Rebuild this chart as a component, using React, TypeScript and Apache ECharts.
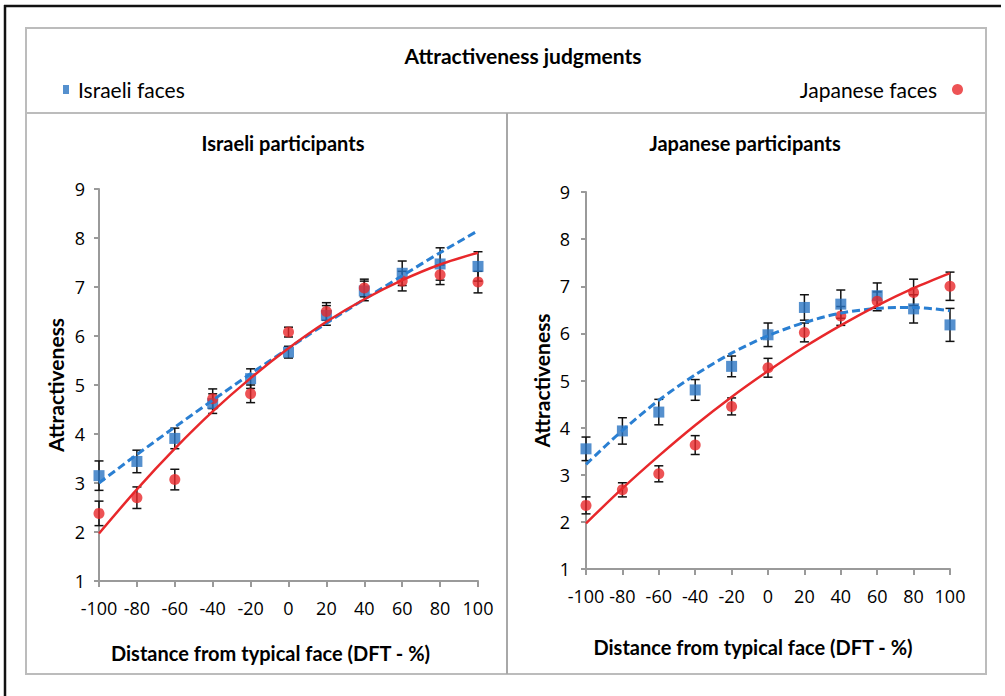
import React, { useEffect, useRef } from "react";
import * as echarts from "echarts";

const xValues = [-100, -80, -60, -40, -20, 0, 20, 40, 60, 80, 100];
const xTicks = ["-100", "-80", "-60", "-40", "-20", "0", "20", "40", "60", "80", "100"];

// Israeli participants
const ipIsraeliMean = [3.15, 3.44, 3.91, 4.62, 5.13, 5.67, 6.42, 6.92, 7.28, 7.47, 7.42];
const ipIsraeliErr = [0.3, 0.23, 0.21, 0.2, 0.2, 0.12, 0.2, 0.2, 0.25, 0.33, 0.3];
const ipJapaneseMean = [2.38, 2.7, 3.07, 4.72, 4.82, 6.08, 6.5, 6.98, 7.12, 7.25, 7.1];
const ipJapaneseErr = [0.25, 0.22, 0.21, 0.2, 0.18, 0.1, 0.18, 0.18, 0.2, 0.2, 0.22];
const ipIsraeliTrend = [3.0, 3.58, 4.14, 4.69, 5.23, 5.75, 6.26, 6.75, 7.23, 7.7, 8.15];
const ipJapaneseTrend = [1.97, 2.87, 3.7, 4.46, 5.14, 5.75, 6.29, 6.75, 7.14, 7.46, 7.7];

// Japanese participants
const jpIsraeliMean = [3.55, 3.93, 4.33, 4.8, 5.3, 5.97, 6.55, 6.62, 6.8, 6.52, 6.18];
const jpIsraeliErr = [0.25, 0.28, 0.27, 0.22, 0.22, 0.25, 0.27, 0.3, 0.27, 0.3, 0.35];
const jpJapaneseMean = [2.35, 2.68, 3.02, 3.63, 4.45, 5.27, 6.02, 6.37, 6.68, 6.87, 7.0];
const jpJapaneseErr = [0.18, 0.15, 0.17, 0.2, 0.18, 0.2, 0.2, 0.2, 0.2, 0.28, 0.3];
const jpIsraeliTrend = [3.22, 3.94, 4.58, 5.12, 5.58, 5.95, 6.23, 6.43, 6.53, 6.55, 6.48];
const jpJapaneseTrend = [1.97, 2.71, 3.4, 4.05, 4.65, 5.2, 5.71, 6.17, 6.59, 6.96, 7.28];

const BLUE = "#2b74c2";
const BLUE_LINE = "#2a7fd2";
const RED = "#e8282b";
const FONT = "Lato, 'Open Sans', sans-serif";
const TICK_FONT = "'Open Sans', sans-serif";

const pairs = (vals: number[]) => xValues.map((x, i) => [x, vals[i]]);
const bars = (vals: number[], errs: number[]) =>
  xValues.map((x, i) => [x, vals[i] - errs[i], vals[i] + errs[i]]);

const errorRender = (params: any, api: any) => {
  const x = api.value(0);
  const top = api.coord([x, api.value(2)]);
  const bot = api.coord([x, api.value(1)]);
  const w = 4.5;
  const st = { stroke: "#111", lineWidth: 1.5 };
  return {
    type: "group",
    children: [
      { type: "line", shape: { x1: top[0], y1: top[1], x2: bot[0], y2: bot[1] }, style: st },
      { type: "line", shape: { x1: top[0] - w, y1: top[1], x2: top[0] + w, y2: top[1] }, style: st },
      { type: "line", shape: { x1: bot[0] - w, y1: bot[1], x2: bot[0] + w, y2: bot[1] }, style: st },
    ],
  };
};

const xAxisCfg = (gridIndex: number, gap: number, shift: number) => ({
  type: "value",
  gridIndex,
  min: -100,
  max: 100,
  interval: 20,
  name: "Distance from typical face (DFT - %)",
  nameLocation: "middle",
  nameGap: gap,
  nameTextStyle: {
    fontFamily: FONT,
    fontWeight: "bold",
    fontSize: 20,
    color: "#000",
    padding: [0, shift, 0, 0],
  },
  axisLine: { onZero: false, lineStyle: { color: "#9a9a9a", width: 2 } },
  axisTick: { show: true, length: 6, lineStyle: { color: "#9a9a9a", width: 2 } },
  axisLabel: {
    margin: 18,
    fontFamily: TICK_FONT,
    fontSize: 18,
    color: "#000",
    formatter: (v: number) => xTicks[xValues.indexOf(v)] ?? String(v),
  },
  splitLine: { show: false },
});

const yAxisCfg = (gridIndex: number, gap: number, margin: number) => ({
  type: "value",
  gridIndex,
  min: 1,
  max: 9,
  interval: 1,
  name: "Attractiveness",
  nameLocation: "middle",
  nameGap: gap,
  nameTextStyle: { fontFamily: FONT, fontWeight: "bold", fontSize: 21, color: "#000" },
  axisLine: { show: true, onZero: false, lineStyle: { color: "#9a9a9a", width: 2 } },
  axisTick: { show: true, length: 5, lineStyle: { color: "#9a9a9a", width: 2 } },
  axisLabel: { margin, fontFamily: TICK_FONT, fontSize: 18, color: "#000" },
  splitLine: { show: false },
});

const panelSeries = (
  idx: number,
  israeliMean: number[],
  israeliErr: number[],
  japaneseMean: number[],
  japaneseErr: number[],
  israeliTrend: number[],
  japaneseTrend: number[]
) => [
  {
    type: "custom",
    name: "err-isr-" + idx,
    xAxisIndex: idx,
    yAxisIndex: idx,
    renderItem: errorRender,
    encode: { x: 0, y: [1, 2] },
    data: bars(israeliMean, israeliErr),
    z: 2,
    silent: true,
  },
  {
    type: "custom",
    name: "err-jap-" + idx,
    xAxisIndex: idx,
    yAxisIndex: idx,
    renderItem: errorRender,
    encode: { x: 0, y: [1, 2] },
    data: bars(japaneseMean, japaneseErr),
    z: 2,
    silent: true,
  },
  {
    type: "scatter",
    name: "Israeli faces",
    xAxisIndex: idx,
    yAxisIndex: idx,
    symbol: "rect",
    symbolSize: 11,
    itemStyle: { color: BLUE },
    data: pairs(israeliMean),
    z: 3,
  },
  {
    type: "scatter",
    name: "Japanese faces",
    xAxisIndex: idx,
    yAxisIndex: idx,
    symbol: "circle",
    symbolSize: 11,
    itemStyle: { color: RED },
    data: pairs(japaneseMean),
    z: 4,
  },
  {
    type: "line",
    name: "trend-isr-" + idx,
    xAxisIndex: idx,
    yAxisIndex: idx,
    smooth: 0.3,
    showSymbol: false,
    lineStyle: { color: BLUE_LINE, width: 3, type: [8, 4] },
    data: pairs(israeliTrend),
    z: 5,
    silent: true,
  },
  {
    type: "line",
    name: "trend-jap-" + idx,
    xAxisIndex: idx,
    yAxisIndex: idx,
    smooth: 0.3,
    showSymbol: false,
    lineStyle: { color: RED, width: 2.5 },
    data: pairs(japaneseTrend),
    z: 5,
    silent: true,
  },
];

export default function App() {
  const ref = useRef<HTMLDivElement>(null);
  useEffect(() => {
    if (!ref.current) return;
    const chart = echarts.init(ref.current, null, { renderer: "svg" });
    const gray = "#bcbcbc";
    chart.setOption({
      animation: false,
      backgroundColor: "#ffffff",
      title: [
        {
          text: "Attractiveness judgments",
          left: 518,
          top: 40,
          textAlign: "center",
          textStyle: { fontFamily: FONT, fontWeight: "bold", fontSize: 21, color: "#000" },
        },
        {
          text: "Israeli participants",
          left: 278,
          top: 128,
          textAlign: "center",
          textStyle: { fontFamily: FONT, fontWeight: "bold", fontSize: 20, color: "#000" },
        },
        {
          text: "Japanese participants",
          left: 740,
          top: 128,
          textAlign: "center",
          textStyle: { fontFamily: FONT, fontWeight: "bold", fontSize: 20, color: "#000" },
        },
      ],
      legend: [
        {
          data: ["Israeli faces"],
          left: 58,
          top: 74,
          icon: "rect",
          itemWidth: 6,
          itemHeight: 9,
          textStyle: { fontFamily: FONT, fontSize: 21, color: "#000", padding: [0, 0, 0, 4] },
          selectedMode: false,
        },
        {
          data: ["Japanese faces"],
          right: 37,
          top: 74,
          align: "right",
          icon: "circle",
          itemWidth: 11,
          itemHeight: 11,
          textStyle: { fontFamily: FONT, fontSize: 21, color: "#000", padding: [0, 10, 0, 0] },
          selectedMode: false,
        },
      ],
      grid: [
        { left: 99, top: 189, width: 379, height: 392 },
        { left: 586, top: 192, width: 364, height: 377 },
      ],
      xAxis: [xAxisCfg(0, 62, 36), xAxisCfg(1, 68, 30)],
      yAxis: [yAxisCfg(0, 33, 14), yAxisCfg(1, 34, 16)],
      series: [
        ...panelSeries(0, ipIsraeliMean, ipIsraeliErr, ipJapaneseMean, ipJapaneseErr, ipIsraeliTrend, ipJapaneseTrend),
        ...panelSeries(1, jpIsraeliMean, jpIsraeliErr, jpJapaneseMean, jpJapaneseErr, jpIsraeliTrend, jpJapaneseTrend),
      ],
      graphic: [
        { type: "line", shape: { x1: 4, y1: 6, x2: 1001, y2: 6 }, style: { stroke: "#111", lineWidth: 2.5 }, z: 10 },
        { type: "line", shape: { x1: 5, y1: 5, x2: 5, y2: 696 }, style: { stroke: "#111", lineWidth: 2.5 }, z: 10 },
        { type: "rect", shape: { x: 26, y: 28, width: 960, height: 646 }, style: { fill: "none", stroke: gray, lineWidth: 2 }, z: 10 },
        { type: "line", shape: { x1: 26, y1: 113, x2: 986, y2: 113 }, style: { stroke: gray, lineWidth: 2 }, z: 10 },
        { type: "line", shape: { x1: 507, y1: 113, x2: 507, y2: 674 }, style: { stroke: "#a8a8a8", lineWidth: 2 }, z: 10 },
      ],
    });
    return () => chart.dispose();
  }, []);
  return (
    <div
      ref={ref}
      style={{ position: "absolute", left: 0, top: 0, width: 1005, height: 696, background: "#fff" }}
    />
  );
}
